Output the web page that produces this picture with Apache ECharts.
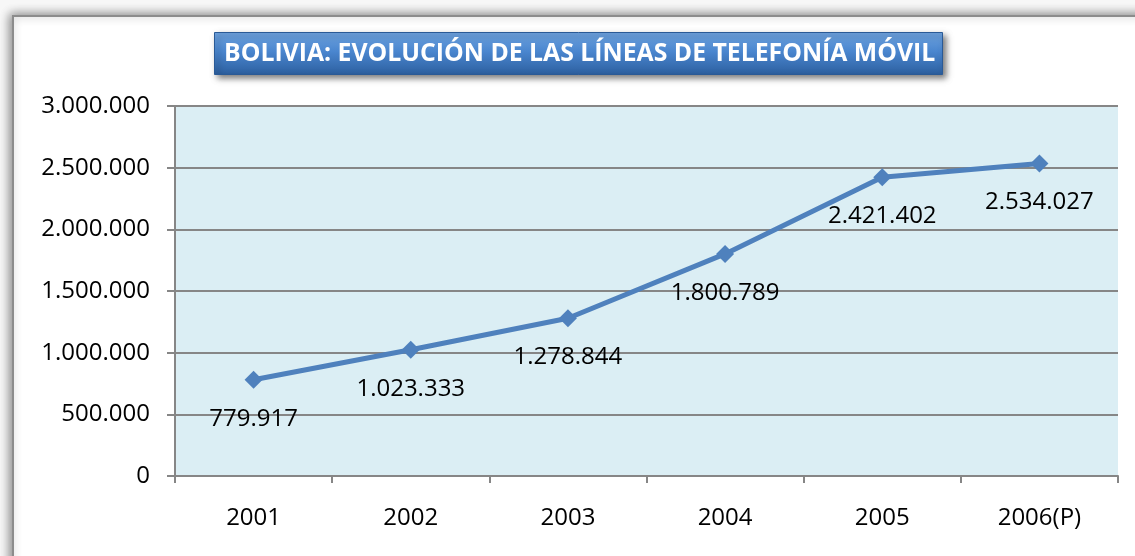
<!DOCTYPE html>
<html>
<head>
<meta charset="utf-8">
<script src="https://cdn.jsdelivr.net/npm/echarts@6/dist/echarts.min.js"></script>
<style>
  html, body { margin: 0; padding: 0; background: #fff; }
  #chart { width: 1135px; height: 556px; }
</style>
</head>
<body>
<div id="chart"></div>
<script>
  // datos del grafico
  const titulo = 'BOLIVIA: EVOLUCIÓN DE LAS LÍNEAS DE TELEFONÍA MÓVIL';
  const anios = ['2001', '2002', '2003', '2004', '2005', '2006(P)'];
  const lineas = [779917, 1023333, 1278844, 1800789, 2421402, 2534027];
  const ejeY = [0, 500000, 1000000, 1500000, 2000000, 2500000, 3000000];

  // formato con punto como separador de miles
  function fmt(v) {
    return String(Math.round(v)).replace(/\B(?=(\d{3})+(?!\d))/g, '.');
  }

  let myChart = echarts.init(document.getElementById('chart'));
  let option = {
    backgroundColor: '#f7f7f7',
    graphic: [
      {
        type: 'rect',
        z: -10,
        shape: { x: 13, y: 16, width: 1200, height: 600 },
        style: {
          fill: '#ffffff',
          stroke: '#8c8c8c',
          lineWidth: 2,
          shadowBlur: 10,
          shadowColor: 'rgba(0,0,0,0.45)',
          shadowOffsetX: -2,
          shadowOffsetY: -1
        }
      }
    ],
    title: {
      text: titulo,
      left: 214,
      top: 32,
      padding: [8, 7, 8, 10],
      backgroundColor: new echarts.graphic.LinearGradient(0, 0, 0, 1, [
        { offset: 0, color: '#6fa3df' },
        { offset: 0.45, color: '#4a86cf' },
        { offset: 1, color: '#2c5f9f' }
      ]),
      borderColor: '#2a5a96',
      borderWidth: 1,
      shadowBlur: 6,
      shadowColor: 'rgba(0,0,0,0.5)',
      shadowOffsetX: 3,
      shadowOffsetY: 3,
      textStyle: {
        color: '#ffffff',
        fontFamily: 'Open Sans',
        fontWeight: 'bold',
        fontSize: 24.8,
        lineHeight: 27
      }
    },
    grid: {
      left: 175,
      right: 17,
      top: 106,
      bottom: 80,
      show: true,
      backgroundColor: '#dbeef4',
      borderWidth: 0
    },
    xAxis: {
      type: 'category',
      data: anios,
      boundaryGap: true,
      axisLine: { lineStyle: { color: '#868686', width: 2 } },
      axisTick: { show: true, length: 7, lineStyle: { color: '#868686', width: 2 } },
      axisLabel: {
        color: '#000',
        fontFamily: 'Open Sans',
        fontSize: 24,
        margin: 30
      }
    },
    yAxis: {
      type: 'value',
      min: ejeY[0],
      max: ejeY[ejeY.length - 1],
      interval: 500000,
      axisLine: { show: true, lineStyle: { color: '#868686', width: 2 } },
      axisTick: { show: true, length: 8, lineStyle: { color: '#868686', width: 2 } },
      splitLine: { lineStyle: { color: '#868686', width: 2 } },
      axisLabel: {
        color: '#000',
        fontFamily: 'Open Sans',
        fontSize: 24,
        margin: 25,
        formatter: function (v) { return fmt(v); }
      }
    },
    series: [
      {
        type: 'line',
        data: lineas,
        symbol: 'diamond',
        symbolSize: 18,
        lineStyle: { color: '#4f81bd', width: 5 },
        itemStyle: { color: '#4f81bd' },
        label: {
          show: true,
          position: 'bottom',
          distance: 18,
          color: '#000',
          fontFamily: 'Open Sans',
          fontSize: 24,
          formatter: function (p) { return fmt(p.value); }
        }
      }
    ]
  };
  myChart.setOption(option);
</script>
</body>
</html>
